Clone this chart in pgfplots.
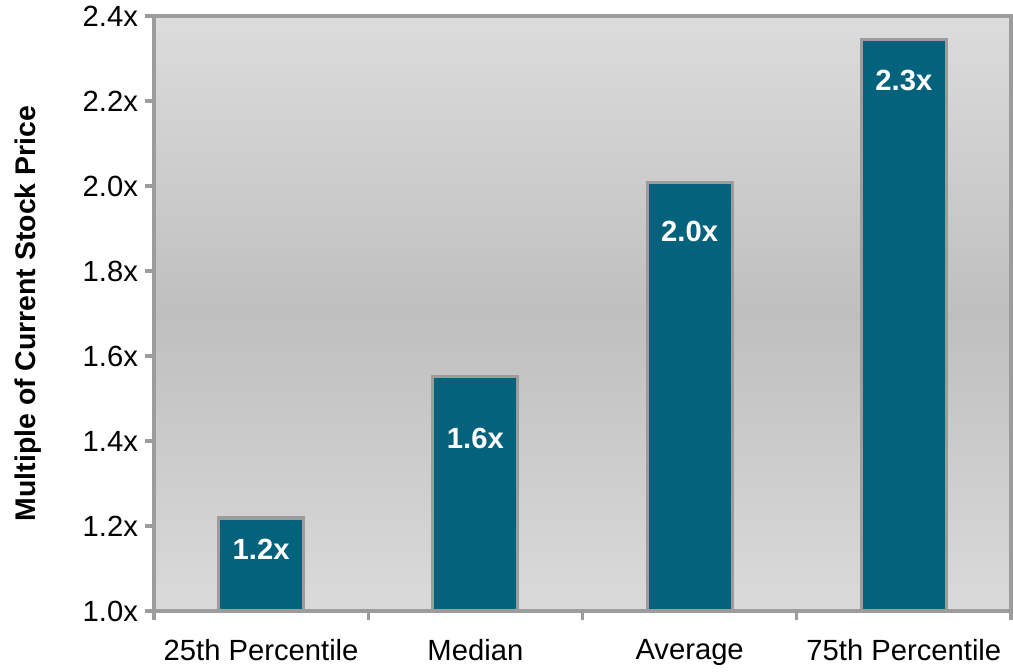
\documentclass[border=0pt]{standalone}
\usepackage{pgfplots}
\pgfplotsset{compat=1.18}
\usepackage{fontspec}
\setmainfont{Liberation Sans}
\definecolor{barblue}{HTML}{05627C}
\definecolor{axgray}{HTML}{9C9C9C}
\definecolor{bgtop}{HTML}{DCDCDC}
\definecolor{bgmid}{HTML}{BFBFBF}
\definecolor{bgbot}{HTML}{DADADA}
\begin{document}
\begin{tikzpicture}
\path[use as bounding box] (0,0) rectangle (506.5pt,335.5pt);
\begin{axis}[
  at={(77pt,30pt)}, anchor=south west,
  scale only axis, width=428.5pt, height=297.5pt,
  xmin=-0.5, xmax=3.5, ymin=1, ymax=2.4,
  axis line style={axgray, line width=1.7pt},
  axis on top,
  xtick pos=lower, ytick pos=left,
  xtick={-0.5,0.5,1.5,2.5,3.5},
  xticklabels={25th Percentile,Median,Average,75th Percentile},
  x tick label as interval,
  ytick={1,1.2,1.4,1.6,1.8,2.0,2.2,2.4},
  yticklabels={1.0x,1.2x,1.4x,1.6x,1.8x,2.0x,2.2x,2.4x},
  tick style={axgray, line width=1.7pt},
  major tick length=4.5pt,
  xtick align=outside, ytick align=outside,
  tick label style={font=\fontsize{14.6}{17}\selectfont, black},
  xticklabel style={yshift=-6pt},
  yticklabel style={xshift=0pt},
  ylabel={\bfseries Multiple of Current Stock Price},
  every axis y label/.style={at={(rel axis cs:0,0.5)}, rotate=90, anchor=center, yshift=63pt,
    font=\fontsize{14.2}{17}\selectfont},
]
\path[top color=bgtop, bottom color=bgbot, middle color=bgmid]
  (rel axis cs:0,0) rectangle (rel axis cs:1,1);
\addplot[ybar, bar width=42.5pt, fill=barblue, draw=axgray, line width=1.6pt]
  coordinates {(0,1.219) (1,1.551) (2,2.009) (3,2.344)};
\addplot[draw=none, mark=none, nodes near coords, point meta=explicit symbolic,
  nodes near coords align={center},
  every node near coord/.append style={font=\fontsize{14.6}{17}\selectfont\bfseries, text=white}]
  table[meta=lab] {
x y lab
0 1.146 1.2x
1 1.407 1.6x
2 1.894 2.0x
3 2.249 2.3x
};
\end{axis}
\end{tikzpicture}
\end{document}
